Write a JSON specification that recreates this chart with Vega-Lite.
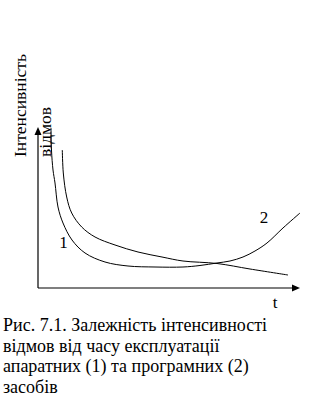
{
  "$schema": "https://vega.github.io/schema/vega-lite/v6.json",
  "width": 323,
  "height": 397,
  "padding": 0,
  "autosize": {"type": "none"},
  "background": "white",
  "config": {"view": {"stroke": null}, "font": "Liberation Serif"},
  "data": {"values": [{}]},
  "datasets": {
    "curves": [
      {"series": "A", "t": 0.496, "v": 9.938},
      {"series": "A", "t": 0.515, "v": 8.571},
      {"series": "A", "t": 0.573, "v": 7.329},
      {"series": "A", "t": 0.649, "v": 6.522},
      {"series": "A", "t": 0.763, "v": 5.031},
      {"series": "A", "t": 0.954, "v": 4.037},
      {"series": "A", "t": 1.298, "v": 2.981},
      {"series": "A", "t": 1.794, "v": 2.174},
      {"series": "A", "t": 2.557, "v": 1.615},
      {"series": "A", "t": 3.435, "v": 1.366},
      {"series": "A", "t": 4.466, "v": 1.304},
      {"series": "A", "t": 5.534, "v": 1.304},
      {"series": "A", "t": 6.183, "v": 1.398},
      {"series": "A", "t": 6.832, "v": 1.553},
      {"series": "A", "t": 7.328, "v": 1.677},
      {"series": "A", "t": 7.824, "v": 1.925},
      {"series": "A", "t": 8.282, "v": 2.298},
      {"series": "A", "t": 8.740, "v": 2.795},
      {"series": "A", "t": 9.351, "v": 3.727},
      {"series": "A", "t": 10.0, "v": 4.658},
      {"series": "B", "t": 0.927, "v": 8.571},
      {"series": "B", "t": 0.966, "v": 7.143},
      {"series": "B", "t": 1.095, "v": 5.652},
      {"series": "B", "t": 1.286, "v": 4.658},
      {"series": "B", "t": 1.668, "v": 3.789},
      {"series": "B", "t": 2.176, "v": 3.168},
      {"series": "B", "t": 2.939, "v": 2.671},
      {"series": "B", "t": 3.817, "v": 2.236},
      {"series": "B", "t": 4.733, "v": 1.925},
      {"series": "B", "t": 5.534, "v": 1.677},
      {"series": "B", "t": 6.832, "v": 1.522},
      {"series": "B", "t": 8.092, "v": 1.180},
      {"series": "B", "t": 9.542, "v": 0.807}
    ]
  },
  "layer": [
    {
      "data": {"name": "curves"},
      "mark": {"type": "line", "interpolate": "catmull-rom", "stroke": "black", "strokeWidth": 1},
      "encoding": {
        "x": {"field": "t", "type": "quantitative", "axis": null, "scale": {"domain": [-1.4504, 10.8779], "nice": false, "zero": false}},
        "y": {"field": "v", "type": "quantitative", "axis": null, "scale": {"domain": [-6.7702, 17.8882], "nice": false, "zero": false}},
        "detail": {"field": "series"}
      }
    },
    {
      "mark": {"type": "rule", "stroke": "black", "strokeWidth": 1.2},
      "encoding": {
        "x": {"datum": 0, "type": "quantitative"},
        "x2": {"datum": 9.75},
        "y": {"datum": 0, "type": "quantitative"}
      }
    },
    {
      "mark": {"type": "rule", "stroke": "black", "strokeWidth": 1.2},
      "encoding": {
        "x": {"datum": 0, "type": "quantitative"},
        "y": {"datum": 0, "type": "quantitative"},
        "y2": {"datum": 9.6}
      }
    },
    {
      "mark": {"type": "point", "shape": "M0,0L-1,-0.4375L-1,0.4375Z", "size": 256, "filled": true, "fill": "black", "opacity": 1, "strokeWidth": 0},
      "encoding": {
        "x": {"datum": 10, "type": "quantitative"},
        "y": {"datum": 0, "type": "quantitative"}
      }
    },
    {
      "mark": {"type": "point", "shape": "M0,0L-0.4375,1L0.4375,1Z", "size": 256, "filled": true, "fill": "black", "opacity": 1, "strokeWidth": 0},
      "encoding": {
        "x": {"datum": 0, "type": "quantitative"},
        "y": {"datum": 10, "type": "quantitative"}
      }
    },
    {
      "mark": {"type": "text", "text": ["Інтенсивність", "відмов"], "angle": 270, "align": "left", "baseline": "alphabetic", "lineHeight": 25, "font": "Liberation Serif", "fontSize": 17.5, "fill": "black"},
      "encoding": {
        "x": {"datum": -0.458, "type": "quantitative"},
        "y": {"datum": 8.137, "type": "quantitative"}
      }
    },
    {
      "mark": {"type": "text", "text": "1", "align": "center", "baseline": "alphabetic", "font": "Liberation Serif", "fontSize": 17, "fill": "black"},
      "encoding": {
        "x": {"datum": 0.973, "type": "quantitative"},
        "y": {"datum": 2.484, "type": "quantitative"}
      }
    },
    {
      "mark": {"type": "text", "text": "2", "align": "center", "baseline": "alphabetic", "font": "Liberation Serif", "fontSize": 17, "fill": "black"},
      "encoding": {
        "x": {"datum": 8.626, "type": "quantitative"},
        "y": {"datum": 4.037, "type": "quantitative"}
      }
    },
    {
      "mark": {"type": "text", "text": "t", "align": "center", "baseline": "alphabetic", "font": "Liberation Serif", "fontSize": 17, "fill": "black"},
      "encoding": {
        "x": {"datum": 9.046, "type": "quantitative"},
        "y": {"datum": -1.242, "type": "quantitative"}
      }
    },
    {
      "mark": {"type": "text", "text": ["Рис. 7.1. Залежність інтенсивності", "відмов від часу експлуатації", "апаратних (1) та програмних (2)", "засобів"], "align": "left", "baseline": "alphabetic", "lineHeight": 20.7, "font": "Liberation Serif", "fontSize": 18, "fill": "black"},
      "encoding": {
        "x": {"datum": -1.336, "type": "quantitative"},
        "y": {"datum": -2.671, "type": "quantitative"}
      }
    }
  ]
}
